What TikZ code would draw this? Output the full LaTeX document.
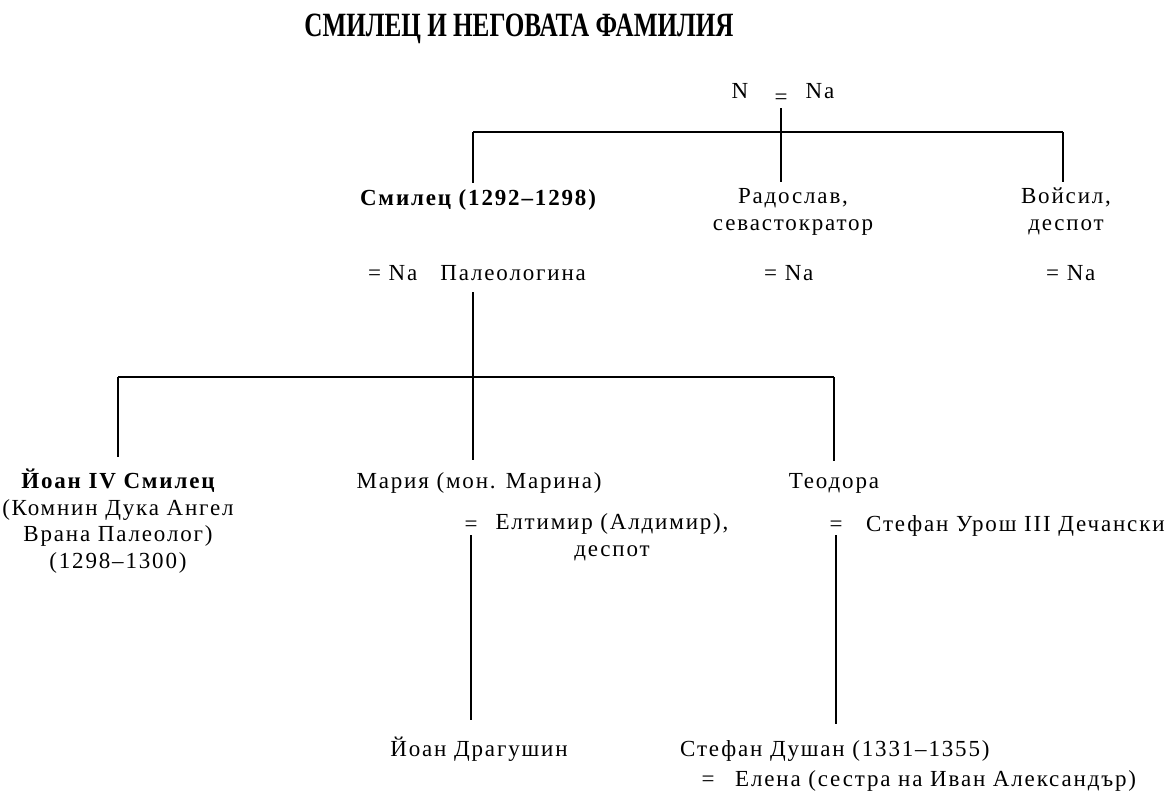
\documentclass[tikz,border=0pt]{standalone}
\usepackage{fontspec}
\setmainfont{Liberation Serif}[LetterSpace=8]
\newfontfamily\titlefont{Liberation Serif}
\begin{document}
\begin{tikzpicture}[x=1pt,y=-1pt,
    every node/.style={inner sep=0pt, font=\fontsize{23}{26.5}\selectfont},
    person/.style={align=center, anchor=base},
    spouse/.style={anchor=base west},
    ruler/.style={line width=2.8pt}]
    \useasboundingbox (0,0) rectangle (1166,793);

    % Title
    \node[anchor=base] (title) at (519,36) {\scalebox{0.74}[1]{\titlefont\bfseries\fontsize{34}{34}\selectfont СМИЛЕЦ И НЕГОВАТА ФАМИЛИЯ}};

    % Parents
    \node[anchor=base] (father) at (740,98) {N};
    \node[anchor=base] (eqtop) at (781,104) {=};
    \node[anchor=base] (mother) at (820,98) {Na};

    % First generation (multi-line nodes sit on their last line)
    \node[person] (smilec) at (478,205) {\bfseries Смилец (1292--1298)};
    \node[person] (radoslav) at (793,230) {Радослав,\\севастократор};
    \node[person] (voisil) at (1066,230) {Войсил,\\деспот};
    \node[spouse] (smilecw) at (368,280) {= Na\quad Палеологина};
    \node[spouse] (radoslavw) at (764,280) {= Na};
    \node[spouse] (voisilw) at (1046,280) {= Na};

    % Bars
    \coordinate (topw) at (473,132);
    \coordinate (tope) at (1063,132);
    \coordinate (trunk) at (473,377);
    \coordinate (lowm) at (473,377);
    \coordinate (loww) at (118,377);
    \coordinate (lowe) at (834,377);
    \draw[ruler] (topw) -- (tope);
    \draw[ruler] (loww) -- (lowe);

    % Second generation
    \node[person] (ioan) at (118,568) {\bfseries Йоан IV Смилец\\(Комнин Дука Ангел\\Врана Палеолог)\\(1298--1300)};
    \node[person] (maria) at (479,488) {Мария (мон. Марина)};
    \node[person] (teodora) at (834,488) {Теодора};
    \node[anchor=base] (eqmaria) at (471,531) {=};
    \node[person] (eltimir) at (612,556) {Елтимир (Алдимир),\\деспот};
    \node[anchor=base] (eqteodora) at (836,531) {=};
    \node[spouse] (urosh) at (866,531) {Стефан Урош III Дечански};

    % Third generation
    \node[person] (dragushin) at (479,756) {Йоан Драгушин};
    \node[spouse] (dushan) at (680,756) {Стефан Душан (1331--1355)};
    \node[anchor=base] (eqdushan) at (708,786) {=};
    \node[spouse] (elena) at (735,786) {Елена (сестра на Иван Александър)};

    % Connectors
    \draw[ruler] ([yshift=-4pt]eqtop.south) -- ([yshift=6pt]eqtop.south |- radoslav.north);
    \draw[ruler] (topw) -- ([yshift=6pt]topw |- smilec.north);
    \draw[ruler] (tope) -- ([yshift=6pt]tope |- voisil.north);
    \draw[ruler] ([yshift=-12pt]trunk |- smilecw.south) -- (lowm);
    \draw[ruler] (loww) -- ([yshift=12pt]loww |- ioan.north);
    \draw[ruler] (lowm) -- ([yshift=12pt]lowm |- maria.north);
    \draw[ruler] (lowe) -- ([yshift=12pt]lowe |- teodora.north);
    \draw[ruler] ([yshift=-4pt]eqmaria.south) -- ([yshift=16pt]eqmaria.south |- dragushin.north);
    \draw[ruler] ([yshift=-4pt]eqteodora.south) -- ([yshift=16pt]eqteodora.south |- dushan.north);
\end{tikzpicture}
\end{document}
